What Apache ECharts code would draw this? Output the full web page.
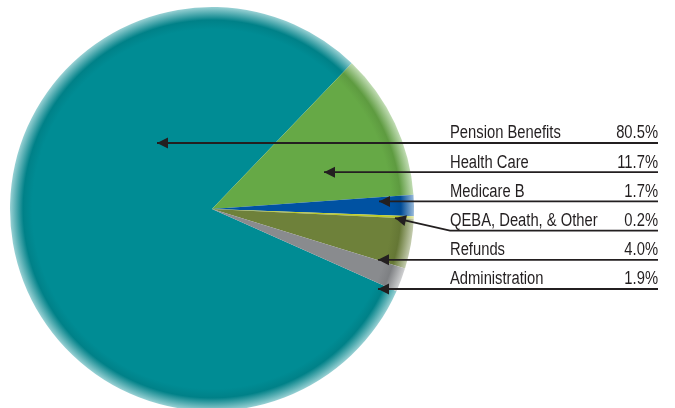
<!DOCTYPE html>
<html><head><meta charset="utf-8">
<script src="https://cdn.jsdelivr.net/npm/echarts@6/dist/echarts.min.js"></script>
<style>html,body{margin:0;padding:0;background:#fff}#c{width:675px;height:408px}</style>
</head><body><div id="c"></div>
<script>
// ---- data ----
const categories = ['Pension Benefits', 'Health Care', 'Medicare B', 'QEBA, Death, & Other', 'Refunds', 'Administration'];
const values = [80.5, 11.7, 1.7, 0.2, 4.0, 1.9];
const sliceColors = ['#008c94', '#66a946', '#0052a2', '#bccb2a', '#6e813a', '#898b8e'];

// ---- layout (annotation geometry) ----
const CX = 212, CY = 209, R = 202;
const textLeft = 450, lineRight = 658, rowTop = 143, rowStep = 29.2;
// pointer tips for each label row (annotation positions)
const tips = [[157, 0], [324, 0], [379, 0], [395, -12.5], [378, 0], [378, 0]];
const FONT = '18px "Liberation Sans", Arial, sans-serif';
const INK = '#231f20';

function mix(hex, t, target) {
  const n = parseInt(hex.slice(1), 16);
  const r = (n >> 16) & 255, g = (n >> 8) & 255, b = n & 255;
  const m = v => Math.round(v + (target - v) * t);
  return `rgb(${m(r)},${m(g)},${m(b)})`;
}
function fill(c) {
  return new echarts.graphic.RadialGradient(CX, CY, R, [
    { offset: 0, color: c },
    { offset: 0.89, color: c },
    { offset: 0.935, color: mix(c, 0.08, 0) },
    { offset: 1, color: mix(c, 0.6, 255) }
  ], true);
}

const rowY = i => rowTop + i * rowStep;
function tipPoint(i) { return [tips[i][0], rowY(i) + tips[i][1]]; }

const chart = echarts.init(document.getElementById('c'), null, { renderer: 'canvas' });

const graphics = [];
categories.forEach((name, i) => {
  const y = rowY(i);
  const [tx, ty] = tipPoint(i);
  const bent = tips[i][1] !== 0;
  const pts = bent ? [[tx, ty], [textLeft, y], [lineRight, y]] : [[tx, ty], [lineRight, y]];
  graphics.push({ type: 'polyline', z: 100, shape: { points: pts }, style: { stroke: INK, lineWidth: 1.8, fill: null } });
  const fx = pts[1][0], fy = pts[1][1];
  const dx = fx - tx, dy = fy - ty, len = Math.hypot(dx, dy);
  const ux = dx / len, uy = dy / len;
  const L = 11, W = 5.5;
  const bx = tx + ux * L, by = ty + uy * L;
  graphics.push({
    type: 'polygon', z: 101,
    shape: { points: [[tx, ty], [bx - uy * W, by + ux * W], [bx + uy * W, by - ux * W]] },
    style: { fill: INK }
  });
  graphics.push({
    type: 'text', z: 102, x: textLeft, y: y - 0.5, scaleX: 0.82,
    style: { text: name, font: FONT, fill: INK, align: 'left', verticalAlign: 'bottom' }
  });
  graphics.push({
    type: 'text', z: 102, x: lineRight, y: y - 0.5, scaleX: 0.82,
    style: { text: values[i].toFixed(1) + '%', font: FONT, fill: INK, align: 'right', verticalAlign: 'bottom' }
  });
});

chart.setOption({
  animation: false,
  backgroundColor: '#fff',
  graphic: graphics,
  series: [{
    type: 'pie',
    center: [CX, CY],
    radius: R,
    startAngle: -24,
    clockwise: true,
    data: categories.map((name, i) => ({
      name, value: values[i],
      itemStyle: { color: fill(sliceColors[i]) }
    })),
    itemStyle: { borderWidth: 0 },
    emphasis: { disabled: true },
    label: { show: false },
    labelLine: { show: false }
  }]
});
</script>
</body></html>
